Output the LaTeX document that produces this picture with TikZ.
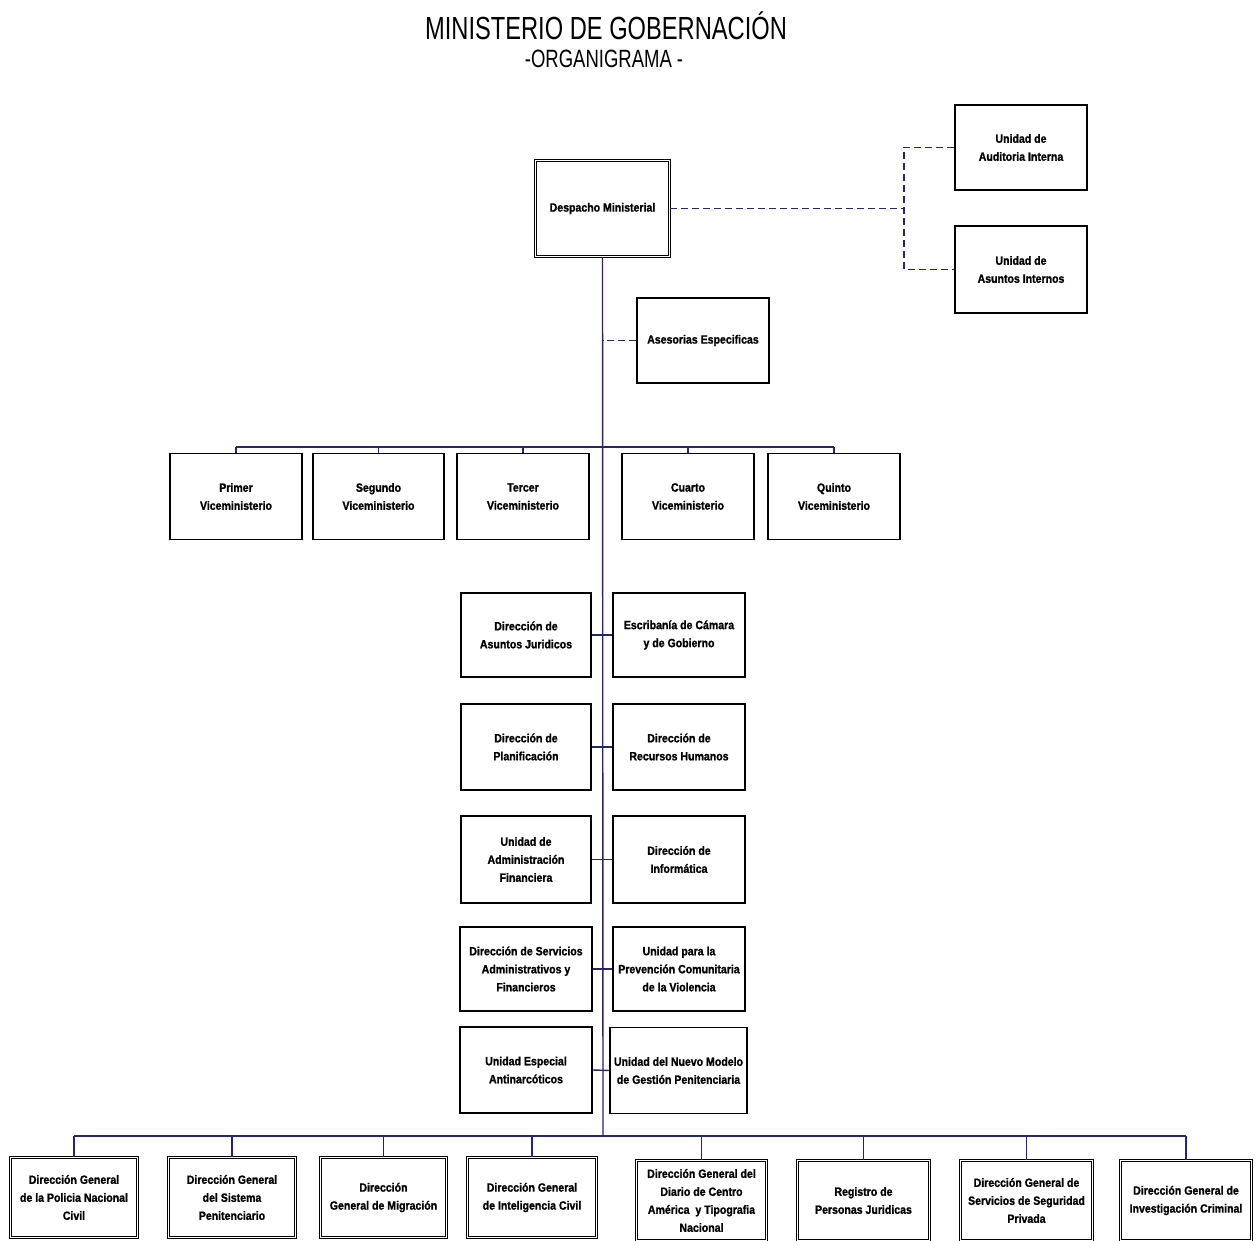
\documentclass[tikz,border=0pt]{standalone}
\usepackage{fontspec}
\setmainfont{Liberation Sans}
\newfontfamily\titlefam[FakeStretch=0.74]{Liberation Sans}
\newfontfamily\boxfam[FakeStretch=0.88, BoldFeatures={FakeBold=1.2}]{Liberation Sans}
\definecolor{navy}{RGB}{38,38,105}
\tikzset{
  unit/.style={draw, line width=1.3pt, align=center, inner sep=2pt,
    minimum width=132pt, minimum height=86pt,
    font=\boxfam\bfseries\fontsize{12}{18}\selectfont},
  headunit/.style={unit, line width=1.1pt, double, double distance=1.6pt},
  link/.style={draw=navy, line width=1.4pt},
  adv/.style={link, dashed, dash pattern=on 7pt off 4pt}
}
\begin{document}
\begin{tikzpicture}[x=1pt, y=-1pt]
\useasboundingbox (0,0) rectangle (1256,1241); % adjust bounding box
% title
\node at (606,26) {\titlefam\fontsize{32}{34}\selectfont MINISTERIO DE GOBERNACIÓN};
\node at (604,59) {\titlefam\fontsize{25}{27}\selectfont -ORGANIGRAMA -};
% top
\node (desp) [headunit, minimum width=134pt, minimum height=96pt] at (602.5,208.5) {Despacho Ministerial};
\node (aud) [unit, minimum height=85pt] at (1021,147.5) {Unidad de\\Auditoria Interna};
\node (asi) [unit, minimum height=87pt] at (1021,269.5) {Unidad de\\Asuntos Internos};
\node (ases) [unit, minimum height=85pt] at (703,340.5) {Asesorias Especificas};
\coordinate (jct) at (904,208.5);
\draw [adv] (desp.east) -- (jct);
\draw [adv] (aud.west) -| (jct) |- (asi.west);
\draw [adv] (ases.west) -- (ases.west -| desp.south);
% viceministerios
\node (v1) [unit] at (236,496.5) {Primer\\Viceministerio};
\node (v2) [unit, minimum width=131pt] at (378.5,496.5) {Segundo\\Viceministerio};
\node (v3) [unit] at (523,496.5) {Tercer\\Viceministerio};
\node (v4) [unit] at (688,496.5) {Cuarto\\Viceministerio};
\node (v5) [unit] at (834,496.5) {Quinto\\Viceministerio};
\coordinate (vbus) at (603,447);
\draw [link] (v1.north |- vbus) -- (v5.north |- vbus);
\foreach \v in {v1,v2,v3,v4,v5}
  \draw [link] (\v.north) -- (\v.north |- vbus);
% direcciones y unidades de apoyo
\node (a1) [unit, minimum width=130pt, minimum height=84pt] at (526,635) {Dirección de\\Asuntos Juridicos};
\node (b1) [unit, minimum height=84pt] at (679,635) {Escribanía de Cámara\\y de Gobierno};
\node (a2) [unit, minimum width=130pt] at (526,747) {Dirección de\\Planificación};
\node (b2) [unit] at (679,747) {Dirección de\\Recursos Humanos};
\node (a3) [unit, minimum width=130pt, minimum height=87pt] at (526,859.5) {Unidad de\\Administración\\Financiera};
\node (b3) [unit, minimum height=87pt] at (679,859.5) {Dirección de\\Informática};
\node (a4) [unit, minimum width=132pt, minimum height=84pt] at (526,969) {Dirección de Servicios\\Administrativos y\\Financieros};
\node (b4) [unit, minimum height=84pt] at (679,969) {Unidad para la\\Prevención Comunitaria\\de la Violencia};
\node (a5) [unit] at (526,1070) {Unidad Especial\\Antinarcóticos};
\node (b5) [unit, minimum width=137pt] at (678.5,1070.5) {Unidad del Nuevo Modelo\\de Gestión Penitenciaria};
\foreach \r in {1,...,5}
  \draw [link] (a\r.east) -- (b\r.west);
% direcciones generales
\node (g1) [headunit, minimum width=127pt, minimum height=80pt] at (74,1197.5) {Dirección General\\de la Policia Nacional\\Civil};
\node (g2) [headunit, minimum width=127pt, minimum height=80pt] at (232,1197.5) {Dirección General\\del Sistema\\Penitenciario};
\node (g3) [headunit, minimum width=126pt, minimum height=80pt] at (383.5,1197.5) {Dirección\\General de Migración};
\node (g4) [headunit, minimum width=129pt, minimum height=80pt] at (532,1197.5) {Dirección General\\de Inteligencia Civil};
\node (g5) [headunit, minimum width=130pt, minimum height=80pt] at (701.5,1200.5) {Dirección General del\\Diario de Centro\\América~ y Tipografia\\Nacional};
\node (g6) [headunit, minimum width=132pt, minimum height=80pt] at (863.5,1200.5) {Registro de\\Personas Juridicas};
\node (g7) [headunit, minimum width=132pt, minimum height=80pt] at (1026.5,1200.5) {Dirección General de\\Servicios de Seguridad\\Privada};
\node (g8) [headunit, minimum width=131pt, minimum height=80pt] at (1186,1200.5) {Dirección General de\\Investigación Criminal};
\coordinate (gbus) at (603,1136);
\draw [link] (desp.south) -- (gbus);
\draw [link] (g1.north |- gbus) -- (g8.north |- gbus);
\foreach \g in {g1,g2,g3,g4,g5,g6,g7,g8}
  \draw [link] (\g.north) -- (\g.north |- gbus);
\end{tikzpicture}
\end{document}
